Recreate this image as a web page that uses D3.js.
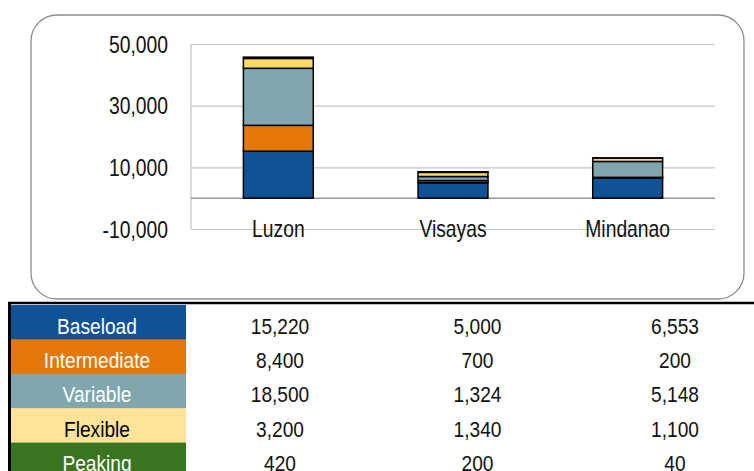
<!DOCTYPE html>
<html>
<head>
<meta charset="utf-8">
<script src="https://cdn.jsdelivr.net/npm/d3@7"></script>
<style>
  html, body { margin: 0; padding: 0; background: #fff; overflow: hidden; }
  svg { display: block; font-family: "Liberation Sans", Arial, sans-serif; }
</style>
</head>
<body>
<svg id="chart" width="754" height="471"></svg>
<script>
// data
var regions = ['Luzon', 'Visayas', 'Mindanao']
var seriesNames = ['Baseload', 'Intermediate', 'Variable', 'Flexible', 'Peaking']
var baseload = [15220, 5000, 6553]
var intermediate = [8400, 700, 200]
var variable = [18500, 1324, 5148]
var flexible = [3200, 1340, 1100]
var peaking = [420, 200, 40]
var yTicks = [-10000, 10000, 30000, 50000]

var seriesValues = [baseload, intermediate, variable, flexible, peaking]
var barColors = ['#0f5396', '#e57706', '#7fa7ad', '#ffd966', '#3a7622']
var tableColors = ['#0f5396', '#e57706', '#7fa7ad', '#ffe399', '#3a7622']
var labelColors = ['#fff', '#fff', '#fff', '#000', '#fff']

var svg = d3.select('#chart')
var fmt = function(v) { return d3.format(',')(v).replace('\u2212', '-') }

// the original font is narrow, so squeeze the text a bit
var chartFont = 23, chartSx = 0.84
var tableFont = 22, tableSx = 0.87

function placeText(sel, x, y, sx) {
  sel.attr('x', 0).attr('y', 0)
    .attr('transform', function(d, i) {
      var xx = typeof x === 'function' ? x(d, i) : x
      var yy = typeof y === 'function' ? y(d, i) : y
      return 'translate(' + xx + ',' + yy + ') scale(' + sx + ',1)'
    })
}

// rounded frame around the chart
svg.append('rect')
  .attr('x', 31).attr('y', 15)
  .attr('width', 713).attr('height', 284)
  .attr('rx', 26).attr('ry', 26)
  .attr('fill', '#fff')
  .attr('stroke', '#8c8c8c')
  .attr('stroke-width', 1.3)

var plot = { left: 191, right: 715, top: 44, bottom: 229 }

var x = d3.scaleBand()
  .domain(regions)
  .range([plot.left, plot.right])
  .paddingInner(0.6)
  .paddingOuter(0.3)

var y = d3.scaleLinear()
  .domain([-10000, 50000])
  .range([plot.bottom, plot.top])

// gridlines + labels
var yAxis = svg.append('g')
  .attr('transform', 'translate(' + plot.left + ',0)')
  .call(d3.axisLeft(y)
    .tickValues(yTicks)
    .tickSize(-(plot.right - plot.left))
    .tickPadding(23)
    .tickFormat(fmt))
yAxis.select('.domain').remove()
yAxis.selectAll('.tick line').attr('stroke', '#c4c4c4').attr('stroke-width', 1.2)
yAxis.selectAll('.tick text')
  .attr('font-size', chartFont)
  .attr('fill', '#111')
  .attr('font-family', '"Liberation Sans", Arial, sans-serif')
  .attr('dy', null)
  .call(placeText, -23, 8, chartSx)

// left edge of plot
svg.append('line')
  .attr('x1', plot.left).attr('x2', plot.left)
  .attr('y1', y(50000)).attr('y2', y(-10000))
  .attr('stroke', '#c4c4c4').attr('stroke-width', 1.2)

// zero line
svg.append('line')
  .attr('x1', plot.left).attr('x2', plot.right)
  .attr('y1', y(0)).attr('y2', y(0))
  .attr('stroke', '#999').attr('stroke-width', 1.5)

// stacked bars
var rows = regions.map(function(r, i) {
  var o = { region: r }
  seriesNames.forEach(function(s, j) { o[s] = seriesValues[j][i] })
  return o
})
var stacked = d3.stack().keys(seriesNames)(rows)

svg.append('g').selectAll('g')
  .data(stacked)
  .join('g')
  .attr('fill', function(d, i) { return barColors[i] })
  .selectAll('rect')
  .data(function(d) { return d })
  .join('rect')
  .attr('x', function(d) { return x(d.data.region) })
  .attr('width', x.bandwidth())
  .attr('y', function(d) { return y(d[1]) })
  .attr('height', function(d) { return y(d[0]) - y(d[1]) })
  .attr('stroke', '#000')
  .attr('stroke-width', 1.5)

// category labels
svg.append('g').selectAll('text')
  .data(regions)
  .join('text')
  .attr('text-anchor', 'middle')
  .attr('font-size', chartFont)
  .attr('fill', '#111')
  .text(function(d) { return d })
  .call(placeText, function(d) { return x(d) + x.bandwidth() / 2 }, 236.5, chartSx)

// data table below
var tableTop = 304
var rowH = 34.4
var col = d3.scalePoint().domain(regions).range([280, 675])

svg.append('line')
  .attr('x1', 8).attr('x2', 754)
  .attr('y1', tableTop - 1).attr('y2', tableTop - 1)
  .attr('stroke', '#000').attr('stroke-width', 2.5)
svg.append('line')
  .attr('x1', 9.5).attr('x2', 9.5)
  .attr('y1', tableTop - 2).attr('y2', 471)
  .attr('stroke', '#000').attr('stroke-width', 3)

var tr = svg.append('g').selectAll('g')
  .data(seriesNames)
  .join('g')
  .attr('transform', function(d, i) { return 'translate(0,' + (tableTop + 1 + i * rowH) + ')' })

tr.append('rect')
  .attr('x', 11).attr('y', 0)
  .attr('width', 175).attr('height', rowH + 0.5)
  .attr('fill', function(d, i) { return tableColors[i] })

tr.append('text')
  .attr('text-anchor', 'middle')
  .attr('font-size', tableFont)
  .attr('fill', function(d, i) { return labelColors[i] })
  .text(function(d) { return d })
  .call(placeText, 97, 28.5, tableSx)

tr.selectAll('text.val')
  .data(function(d, i) { return regions.map(function(r, k) { return { r: r, v: seriesValues[i][k] } }) })
  .join('text')
  .attr('class', 'val')
  .attr('text-anchor', 'middle')
  .attr('font-size', tableFont)
  .attr('fill', '#111')
  .text(function(d) { return fmt(d.v) })
  .call(placeText, function(d) { return col(d.r) }, 28.5, tableSx)
</script>
</body>
</html>
